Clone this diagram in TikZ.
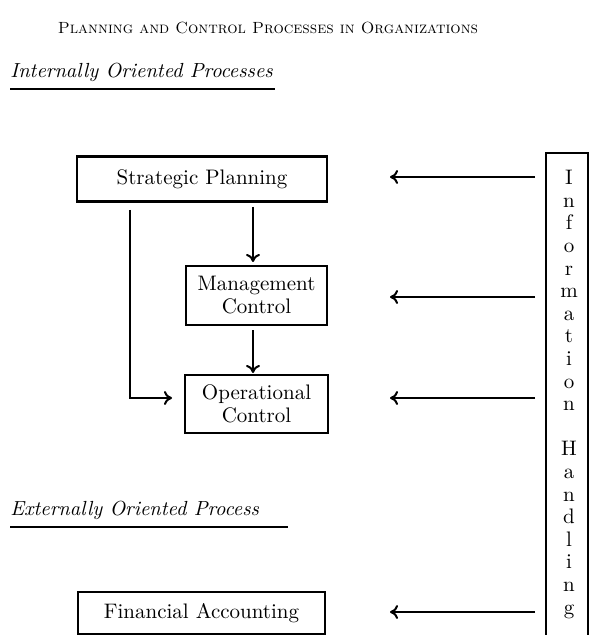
\documentclass[tikz,border=0pt]{standalone}
\usetikzlibrary{arrows.meta}
\begin{document}
\begin{tikzpicture}[x=0.5pt,y=-0.5pt,
  box/.style={draw,line width=1.2pt,rectangle,inner sep=0pt,align=center,font=\fontsize{10.5}{11.5}\selectfont},
  arr/.style={line width=1pt,-{To[length=4pt,width=7pt]}},
  hd/.style={font=\fontsize{10.2}{12}\selectfont\itshape,anchor=west,inner sep=0pt},
  uline/.style={line width=1.2pt}]
\useasboundingbox (0,0) rectangle (589,635);
\node[inner sep=0pt,font=\fontsize{8.1}{10}\selectfont] (title) at (268,28) {\textsc{Planning and Control Processes in Organizations}};
\node[hd] (h1) at (10,72) {Internally Oriented Processes};
\draw[uline] (10,89) coordinate (u1a) -- (275,89) coordinate (u1b);
\node[box,minimum width=125pt,minimum height=22.5pt] (SP) at (202,179) {Strategic Planning};
\node[box,minimum width=70.5pt,minimum height=29.5pt] (MC) at (256.5,295.5) {Management\\Control};
\node[box,minimum width=71.5pt,minimum height=29pt] (OC) at (256.5,404) {Operational\\Control};
\node[hd] (h2) at (10,510) {Externally Oriented Process};
\draw[uline] (10,527) coordinate (u2a) -- (288,527) coordinate (u2b);
\node[box,minimum width=123.5pt,minimum height=21pt] (FA) at (201.5,613) {Financial Accounting};
\node[draw,line width=1.2pt,rectangle,minimum width=21pt,minimum height=250pt,anchor=north west,inner sep=0pt] (IH) at (545,152) {};
\node[anchor=north,inner sep=0pt,align=center,font=\fontsize{10.5}{11.3}\selectfont] (IHt) at (569,170) {I\\n\\f\\o\\r\\m\\a\\t\\i\\o\\n\\[11.3pt]H\\a\\n\\d\\l\\i\\n\\g};
% connectors
\coordinate (a1s) at (253,207);
\coordinate (a1e) at (253,262);
\coordinate (a2s) at (253,330);
\coordinate (a2e) at (253,373);
\draw[arr] (a1s) -- (a1e);
\draw[arr] (a2s) -- (a2e);
\coordinate (lt) at (130,210);
\coordinate (lb) at (130,398);
\coordinate (le) at (172,398);
\draw[arr] (lt) -- (lb) -- (le);
\foreach \y/\n in {177/1,297/2,398/3,612/4}{
  \coordinate (s\n) at (535,\y);
  \coordinate (e\n) at (390,\y);
  \draw[arr] (s\n) -- (e\n);
}
\end{tikzpicture}
\end{document}
